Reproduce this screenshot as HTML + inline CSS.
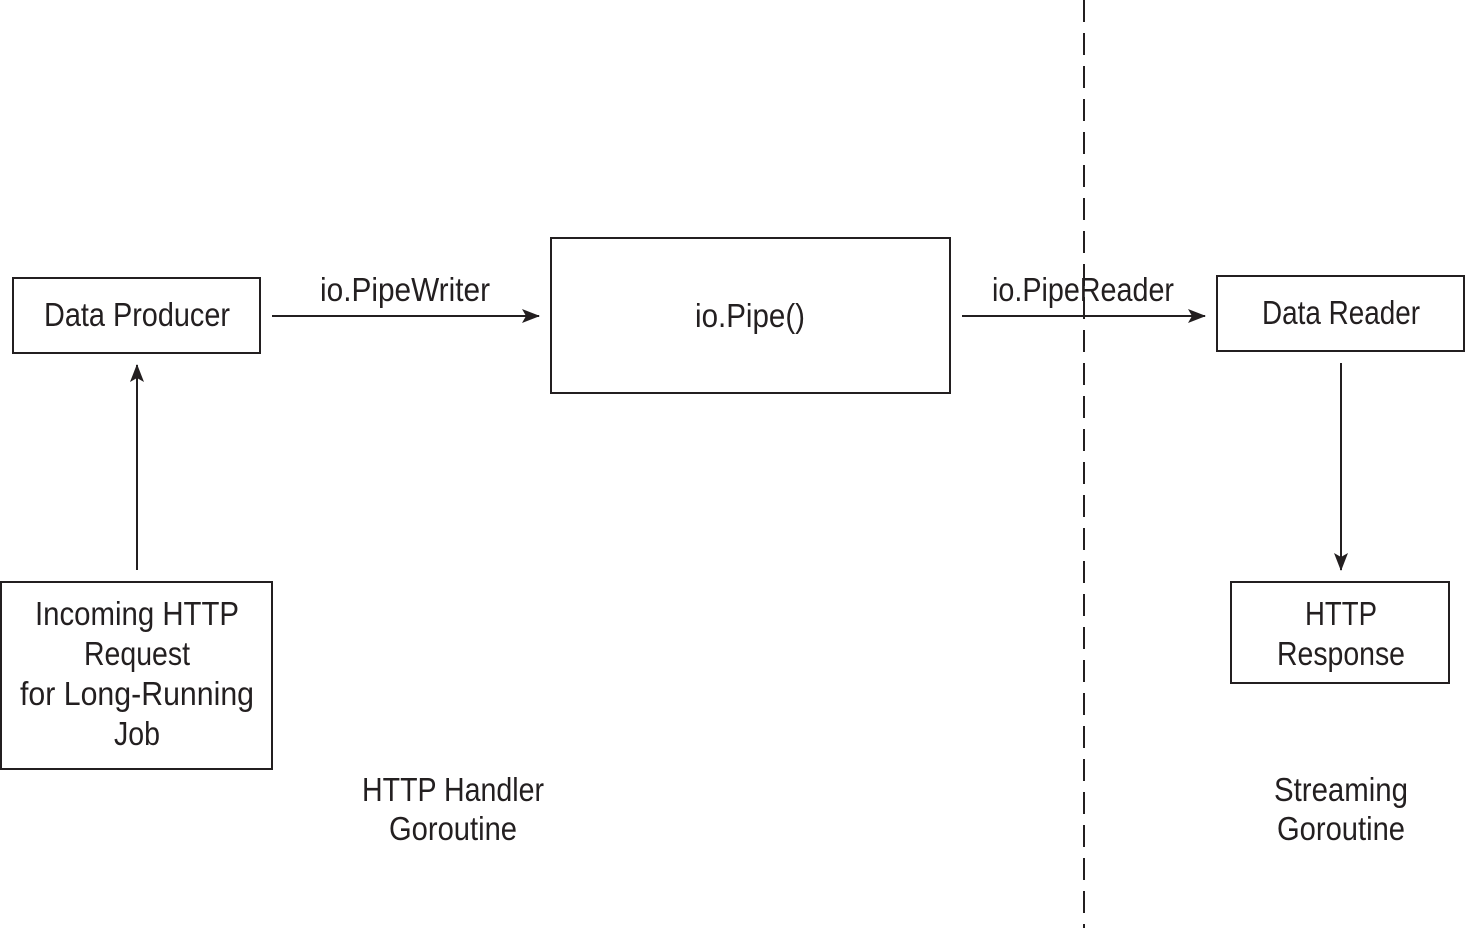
<!DOCTYPE html>
<html><head><meta charset="utf-8"><style>
html,body{margin:0;padding:0;background:#fff;}
svg{display:block;}
text{font-family:"Liberation Sans",sans-serif;font-size:33px;fill:#231f20;}
</style></head><body>
<svg width="1465" height="928" viewBox="0 0 1465 928" xmlns="http://www.w3.org/2000/svg">
<defs>
<marker id="a" markerWidth="18" markerHeight="14" refX="17" refY="7" orient="auto" markerUnits="userSpaceOnUse">
<path d="M0,0 L18,7 L0,14 L4,7 Z" fill="#231f20"/>
</marker>
</defs>
<g fill="none" stroke="#231f20" stroke-width="2">
<rect x="13" y="278" width="247" height="75"/>
<rect x="551" y="238" width="399" height="155"/>
<rect x="1217" y="276" width="247" height="75"/>
<rect x="1" y="582" width="271" height="187"/>
<rect x="1231" y="582" width="218" height="101"/>
<line x1="272" y1="316" x2="539" y2="316" marker-end="url(#a)"/>
<line x1="962" y1="316" x2="1205" y2="316" marker-end="url(#a)"/>
<line x1="137" y1="570" x2="137" y2="365" marker-end="url(#a)"/>
<line x1="1341" y1="363" x2="1341" y2="570" marker-end="url(#a)"/>
<line x1="1084" y1="0" x2="1084" y2="928" stroke-dasharray="22,11"/>
</g>
<g text-anchor="middle">
<text x="137" y="326" textLength="186" lengthAdjust="spacingAndGlyphs">Data Producer</text>
<text x="405" y="301" textLength="170" lengthAdjust="spacingAndGlyphs">io.PipeWriter</text>
<text x="750" y="327" textLength="110" lengthAdjust="spacingAndGlyphs">io.Pipe()</text>
<text x="1083" y="301" textLength="182" lengthAdjust="spacingAndGlyphs">io.PipeReader</text>
<text x="1341" y="324" textLength="158" lengthAdjust="spacingAndGlyphs">Data Reader</text>
<text x="137" y="625" textLength="204" lengthAdjust="spacingAndGlyphs">Incoming HTTP</text>
<text x="137" y="665" textLength="106" lengthAdjust="spacingAndGlyphs">Request</text>
<text x="137" y="705" textLength="234" lengthAdjust="spacingAndGlyphs">for Long-Running</text>
<text x="137" y="745" textLength="46" lengthAdjust="spacingAndGlyphs">Job</text>
<text x="1341" y="625" textLength="72" lengthAdjust="spacingAndGlyphs">HTTP</text>
<text x="1341" y="665" textLength="128" lengthAdjust="spacingAndGlyphs">Response</text>
<text x="453" y="801" textLength="182" lengthAdjust="spacingAndGlyphs">HTTP Handler</text>
<text x="453" y="840" textLength="128" lengthAdjust="spacingAndGlyphs">Goroutine</text>
<text x="1341" y="801" textLength="134" lengthAdjust="spacingAndGlyphs">Streaming</text>
<text x="1341" y="840" textLength="128" lengthAdjust="spacingAndGlyphs">Goroutine</text>
</g>
</svg>
</body></html>
